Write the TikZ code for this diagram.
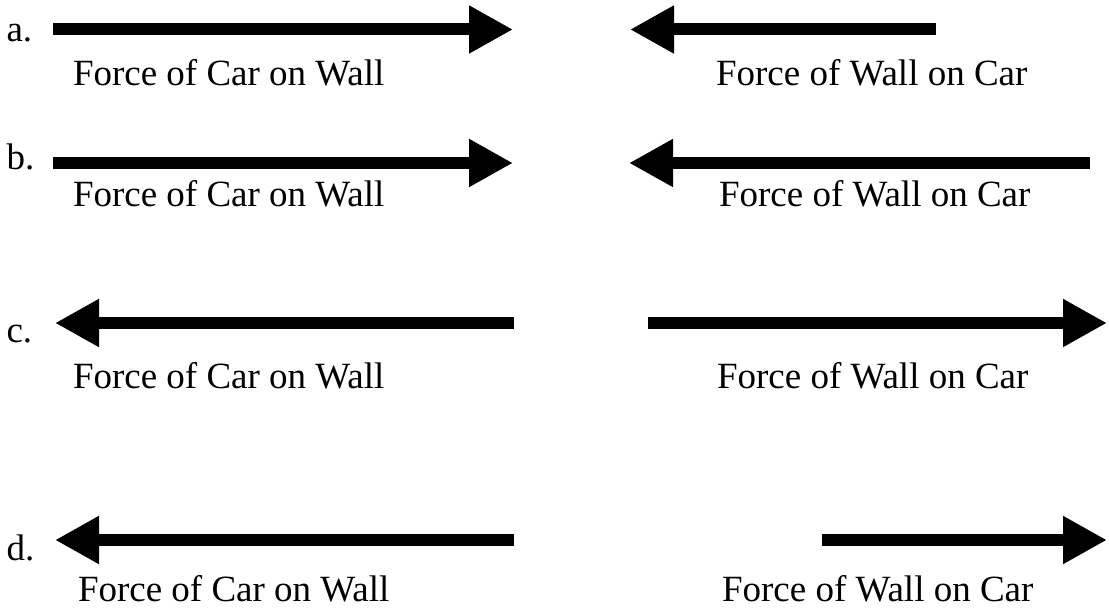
\documentclass[tikz,border=0pt]{standalone}
\usepackage{fontspec}
\setmainfont{Liberation Serif}
\usetikzlibrary{arrows.meta}
\tikzstyle{base}=[inner sep=0pt, outer sep=0pt, x=1pt, y=-1pt]
\tikzstyle{force}=[black, line width=12pt, -{Triangle[length=44pt,width=45pt]}]
\tikzstyle{lbl}=[anchor=base west, font=\fontsize{37}{44}\selectfont]

\begin{document}
\begin{tikzpicture}[base]
    \path [use as bounding box] (0,0) rectangle (1109,609);
    % a.
    \node [lbl] (qa) at (6.5,42) {a.};
    \coordinate (a1s) at (53,29.5);
    \coordinate (a1e) at (513,29.5);
    \coordinate (a2s) at (936,29.5);
    \coordinate (a2e) at (630,29.5);
    \draw [force] (a1s) -- (a1e);
    \draw [force] (a2s) -- (a2e);
    \node [lbl] (a1l) at (73,86) {Force of Car on Wall};
    \node [lbl] (a2l) at (716,86) {Force of Wall on Car};
    % b.
    \node [lbl] (qb) at (6.5,170) {b.};
    \coordinate (b1s) at (53,163);
    \coordinate (b1e) at (513,163);
    \coordinate (b2s) at (1090,163);
    \coordinate (b2e) at (629,163);
    \draw [force] (b1s) -- (b1e);
    \draw [force] (b2s) -- (b2e);
    \node [lbl] (b1l) at (73,207) {Force of Car on Wall};
    \node [lbl] (b2l) at (719,207) {Force of Wall on Car};
    % c.
    \node [lbl] (qc) at (6.5,343) {c.};
    \coordinate (c1s) at (514,323);
    \coordinate (c1e) at (55,323);
    \coordinate (c2s) at (648,323);
    \coordinate (c2e) at (1107,323);
    \draw [force] (c1s) -- (c1e);
    \draw [force] (c2s) -- (c2e);
    \node [lbl] (c1l) at (73,389) {Force of Car on Wall};
    \node [lbl] (c2l) at (717,389) {Force of Wall on Car};
    % d.
    \node [lbl] (qd) at (6.5,560) {d.};
    \coordinate (d1s) at (514,540);
    \coordinate (d1e) at (55,540);
    \coordinate (d2s) at (822,540);
    \coordinate (d2e) at (1107,540);
    \draw [force] (d1s) -- (d1e);
    \draw [force] (d2s) -- (d2e);
    \node [lbl] (d1l) at (78,601) {Force of Car on Wall};
    \node [lbl] (d2l) at (722,601) {Force of Wall on Car};
\end{tikzpicture}
\end{document}
